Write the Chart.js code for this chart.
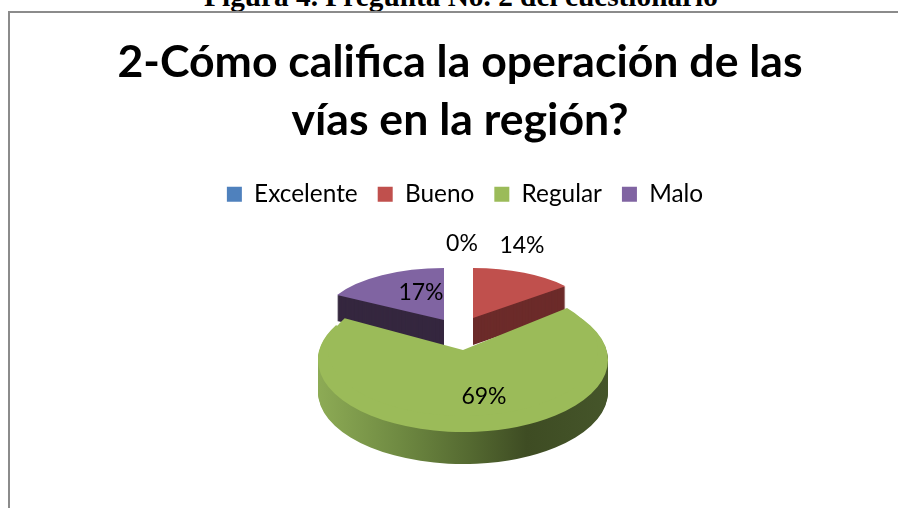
<!DOCTYPE html>
<html lang="es">
<head>
<meta charset="utf-8">
<title>Figura 4</title>
<script src="https://cdn.jsdelivr.net/npm/chart.js@4/dist/chart.umd.min.js"></script>
<style>
html,body{margin:0;padding:0;background:#fff;width:898px;height:508px;overflow:hidden}
#frame{position:absolute;left:8px;top:11px;width:1000px;height:1000px;border:2px solid #8b8b8b;box-sizing:border-box}
#caption{position:absolute;left:12px;top:-16px;width:898px;text-align:center;font:bold 29.3px "Liberation Serif",serif;color:#000;white-space:nowrap;line-height:24px}
canvas{position:absolute;left:0;top:0}
</style>
</head>
<body>
<div id="caption">Figura 4. Pregunta No. 2 del cuestionario</div>
<div id="frame"></div>
<canvas id="c" width="898" height="508"></canvas>
<script>
const categories = ["Excelente", "Bueno", "Regular", "Malo"];
const percentages = [0, 14, 69, 17];
const sliceColors = ["#4f81bd", "#c0504d", "#9bbb59", "#8064a2"];
const sideColors = [null, "#6c2b2a", null, "#35273f"];
const chartTitle = ["2-Cómo califica la operación de las", "vías en la región?"];

// Pseudo-3D view: how each library arc is squashed and pulled out.
const views = {
  1: [{ x: 473, y: 318, rx: 120, ry: 50, depth: 27 }],
  2: [{ x: 463, y: 360, rx: 145, ry: 72, depth: 32 }, { x: 463, y: 350, rx: 135, ry: 66, depth: 0 }],
  3: [{ x: 444, y: 320, rx: 122, ry: 52, depth: 26 }]
};
const labelSpots = [{ x: 462, y: 244 }, { x: 522, y: 246 }, { x: 484, y: 397 }, { x: 421, y: 293 }];
const greenSideStops = [[0, "#8dab55"], [0.28, "#6f8a42"], [0.52, "#556a31"], [0.72, "#3e4c23"], [1, "#45552a"]];
const legendShift = 5;

function drawArc(ctx, el, view, dy, color) {
  const saved = el.options;
  el.options = Object.assign({}, saved, { backgroundColor: color, borderWidth: 0 });
  ctx.save();
  ctx.translate(view.x, view.y + dy);
  ctx.scale(view.rx / el.outerRadius, view.ry / el.outerRadius);
  ctx.translate(-el.x, -el.y);
  el.draw(ctx);
  ctx.restore();
  el.options = saved;
}

const pie3d = {
  id: "pie3d",
  afterLayout(chart) {
    chart.legend.left += legendShift;
    chart.legend.right += legendShift;
  },
  beforeDatasetsDraw(chart) {
    const ctx = chart.ctx;
    const arcs = chart.getDatasetMeta(0).data;
    [3, 1, 2].forEach(i => {
      const el = arcs[i];
      if (!el || !percentages[i]) return;
      const main = views[i][0];
      let side = sideColors[i];
      if (!side) {
        const g = ctx.createLinearGradient(el.x - el.outerRadius, 0, el.x + el.outerRadius, 0);
        greenSideStops.forEach(s => g.addColorStop(s[0], s[1]));
        side = g;
      }
      for (let d = main.depth; d >= 1; d--) drawArc(ctx, el, main, d, side);
      views[i].forEach(v => drawArc(ctx, el, v, 0, sliceColors[i]));
    });
    ctx.save();
    ctx.font = '23px Lato, sans-serif';
    ctx.fillStyle = "#000";
    ctx.textAlign = "center";
    ctx.textBaseline = "middle";
    percentages.forEach((p, i) => ctx.fillText(p + "%", labelSpots[i].x, labelSpots[i].y));
    ctx.restore();
    return false;
  }
};

new Chart(document.getElementById("c"), {
  type: "pie",
  data: {
    labels: categories,
    datasets: [{ data: percentages, backgroundColor: sliceColors, borderWidth: 0 }]
  },
  options: {
    responsive: false,
    animation: false,
    layout: { padding: { left: 22 } },
    plugins: {
      tooltip: { enabled: false },
      title: {
        display: true,
        text: chartTitle,
        color: "#000",
        font: { family: "Lato, sans-serif", size: 44.6, weight: "bold", lineHeight: 1.3 },
        padding: { top: 34, bottom: 12 }
      },
      legend: {
        position: "top",
        labels: {
          color: "#000",
          boxWidth: 15,
          boxHeight: 15,
          padding: 20,
          font: { family: "Lato, sans-serif", size: 24.4 }
        }
      }
    }
  },
  plugins: [pie3d]
});
</script>
</body>
</html>
